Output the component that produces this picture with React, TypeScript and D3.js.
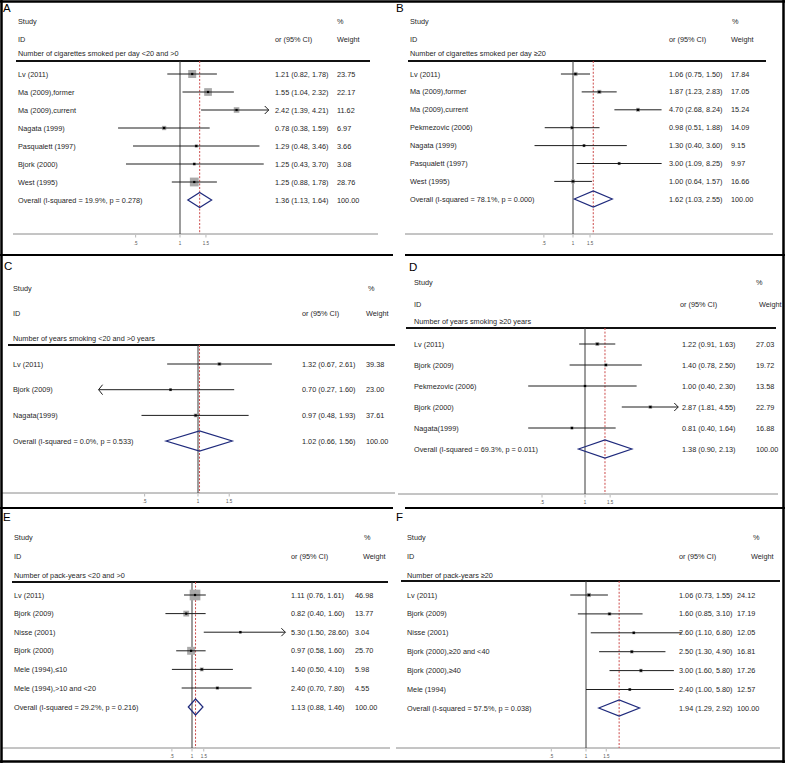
import React from 'react';
import * as d3 from 'd3';

const FONT = "'Liberation Sans', Arial, Helvetica, sans-serif";

// ---------- DATA ----------
const studiesA = ['Lv (2011)', 'Ma (2009),former', 'Ma (2009),current', 'Nagata (1999)', 'Pasqualett (1997)', 'Bjork (2000)', 'West (1995)'];
const orA = [1.21, 1.55, 2.42, 0.78, 1.29, 1.25, 1.25];
const lowA = [0.82, 1.04, 1.39, 0.38, 0.48, 0.43, 0.88];
const highA = [1.78, 2.32, 4.21, 1.59, 3.46, 3.70, 1.78];
const weightA = [23.75, 22.17, 11.62, 6.97, 3.66, 3.08, 28.76];
const overallA = [1.36, 1.13, 1.64];
const hetA = ['19.9%', '0.278'];

const studiesB = ['Lv (2011)', 'Ma (2009),former', 'Ma (2009),current', 'Pekmezovic (2006)', 'Nagata (1999)', 'Pasqualett (1997)', 'West (1995)'];
const orB = [1.06, 1.87, 4.70, 0.98, 1.30, 3.00, 1.00];
const lowB = [0.75, 1.23, 2.68, 0.51, 0.40, 1.09, 0.64];
const highB = [1.50, 2.83, 8.24, 1.88, 3.60, 8.25, 1.57];
const weightB = [17.84, 17.05, 15.24, 14.09, 9.15, 9.97, 16.66];
const overallB = [1.62, 1.03, 2.55];
const hetB = ['78.1%', '0.000'];

const studiesC = ['Lv (2011)', 'Bjork (2009)', 'Nagata(1999)'];
const orC = [1.32, 0.70, 0.97];
const lowC = [0.67, 0.27, 0.48];
const highC = [2.61, 1.60, 1.93];
const weightC = [39.38, 23.00, 37.61];
const overallC = [1.02, 0.66, 1.56];
const hetC = ['0.0%', '0.533'];

const studiesD = ['Lv (2011)', 'Bjork (2009)', 'Pekmezovic (2006)', 'Bjork (2000)', 'Nagata(1999)'];
const orD = [1.22, 1.40, 1.00, 2.87, 0.81];
const lowD = [0.91, 0.78, 0.40, 1.81, 0.40];
const highD = [1.63, 2.50, 2.30, 4.55, 1.64];
const weightD = [27.03, 19.72, 13.58, 22.79, 16.88];
const overallD = [1.38, 0.90, 2.13];
const hetD = ['69.3%', '0.011'];

const studiesE = ['Lv (2011)', 'Bjork (2009)', 'Nisse (2001)', 'Bjork (2000)', 'Mele (1994),≤10', 'Mele (1994),>10 and <20'];
const orE = [1.11, 0.82, 5.30, 0.97, 1.40, 2.40];
const lowE = [0.76, 0.40, 1.50, 0.58, 0.50, 0.70];
const highE = [1.61, 1.60, 28.60, 1.60, 4.10, 7.80];
const weightE = [46.98, 13.77, 3.04, 25.70, 5.98, 4.55];
const overallE = [1.13, 0.88, 1.46];
const hetE = ['29.2%', '0.216'];

const studiesF = ['Lv (2011)', 'Bjork (2009)', 'Nisse (2001)', 'Bjork (2000),≥20 and <40', 'Bjork (2000),≥40', 'Mele (1994)'];
const orF = [1.06, 1.60, 2.60, 2.50, 3.00, 2.40];
const lowF = [0.73, 0.85, 1.10, 1.30, 1.60, 1.00];
const highF = [1.55, 3.10, 6.80, 4.90, 5.80, 5.80];
const weightF = [24.12, 17.19, 12.05, 16.81, 17.26, 12.57];
const overallF = [1.94, 1.29, 2.92];
const hetF = ['57.5%', '0.038'];

const subtitles = [
  'Number of cigarettes smoked per day <20 and >0',
  'Number of cigarettes smoked per day ≥20',
  'Number of years smoking <20 and >0 years',
  'Number of years smoking ≥20 years',
  'Number of pack-years <20 and >0',
  'Number of pack-years ≥20',
];
const panelLetters = ['A', 'B', 'C', 'D', 'E', 'F'];
const tickValues = [0.5, 1, 1.5];
const tickLabels = ['.5', '1', '1.5'];

// ---------- LAYOUT ----------
type L = {
  lx: number; ly: number; sx: number; studyY: number; idY: number; pctX: number; ciX: number; wHX: number;
  valX: number; wX: number; subY: number; hdrY: number; hdrX0: number; hdrX1: number;
  rowY0: number; rowStep: number; ovY: number; axY: number; axX0: number; axX1: number; tickY: number;
  cx: number; ppl: number; min: number; max: number; k: number; dh: number;
};

const layouts: L[] = [
  { lx: 3, ly: 8, sx: 18, studyY: 21, idY: 39, pctX: 337, ciX: 275, wHX: 337, valX: 275, wX: 337, subY: 53, hdrY: 61, hdrX0: 16, hdrX1: 370,
    rowY0: 74, rowStep: 18, ovY: 200, axY: 234, axX0: 13, axX1: 378, tickY: 242, cx: 180, ppl: 64, min: 0.25, max: 4, k: 1.64, dh: 7.5 },
  { lx: 396, ly: 8, sx: 410, studyY: 21, idY: 39, pctX: 732, ciX: 669, wHX: 731, valX: 669, wX: 731, subY: 53, hdrY: 61, hdrX0: 408, hdrX1: 766,
    rowY0: 74, rowStep: 17.9, ovY: 199, axY: 234, axX0: 405, axX1: 773, tickY: 242, cx: 573, ppl: 42, min: 0.25, max: 10, k: 1.0, dh: 8 },
  { lx: 4, ly: 266, sx: 13, studyY: 288, idY: 313, pctX: 368, ciX: 302, wHX: 366, valX: 302, wX: 366, subY: 338, hdrY: 345, hdrX0: 8, hdrX1: 395,
    rowY0: 364, rowStep: 25.7, ovY: 441, axY: 493, axX0: 2, axX1: 395, tickY: 500, cx: 198, ppl: 77, min: 0.275, max: 6, k: 0.6, dh: 10 },
  { lx: 409, ly: 267, sx: 414, studyY: 282, idY: 304, pctX: 756, ciX: 680, wHX: 759, valX: 682, wX: 756, subY: 321, hdrY: 328, hdrX0: 406, hdrX1: 776,
    rowY0: 344, rowStep: 21, ovY: 449, axY: 494, axX0: 398, axX1: 778, tickY: 501, cx: 585, ppl: 62, min: 0.25, max: 4.5, k: 0.75, dh: 9 },
  { lx: 3, ly: 517, sx: 14, studyY: 537, idY: 556, pctX: 364, ciX: 291, wHX: 363, valX: 291, wX: 355, subY: 575, hdrY: 582, hdrX0: 12, hdrX1: 388,
    rowY0: 595, rowStep: 18.6, ovY: 707, axY: 748, axX0: 2, axX1: 390, tickY: 755, cx: 192, ppl: 29, min: 0.25, max: 25, k: 1.56, dh: 8 },
  { lx: 396, ly: 517, sx: 407, studyY: 537, idY: 556, pctX: 753, ciX: 679, wHX: 751, valX: 679, wX: 737, subY: 575, hdrY: 581, hdrX0: 401, hdrX1: 780,
    rowY0: 595, rowStep: 18.9, ovY: 708, axY: 748, axX0: 396, axX1: 780, tickY: 755, cx: 586, ppl: 50, min: 0.25, max: 8, k: 0.85, dh: 8 },
];

const panelData = [
  { s: studiesA, or: orA, lo: lowA, hi: highA, w: weightA, ov: overallA, het: hetA },
  { s: studiesB, or: orB, lo: lowB, hi: highB, w: weightB, ov: overallB, het: hetB },
  { s: studiesC, or: orC, lo: lowC, hi: highC, w: weightC, ov: overallC, het: hetC },
  { s: studiesD, or: orD, lo: lowD, hi: highD, w: weightD, ov: overallD, het: hetD },
  { s: studiesE, or: orE, lo: lowE, hi: highE, w: weightE, ov: overallE, het: hetE },
  { s: studiesF, or: orF, lo: lowF, hi: highF, w: weightF, ov: overallF, het: hetF },
];

const FS = 7.3;
const TXT = '#1f1f1f';

const ciText = (o: number, l: number, h: number) => `${o.toFixed(2)} (${l.toFixed(2)}, ${h.toFixed(2)})`;

function Panel({ L, d, letter, sub }: { L: L; d: any; letter: string; sub: string }) {
  const x = d3.scaleLog()
    .domain([L.min, L.max])
    .range([L.cx + L.ppl * Math.log(L.min), L.cx + L.ppl * Math.log(L.max)]);
  const rowY = (i: number) => L.rowY0 + i * L.rowStep;
  const t = (props: any, content: string) => (
    <text fontFamily={FONT} fontSize={FS} fill={TXT} dominantBaseline="central" {...props}>{content}</text>
  );
  const [oOr, oLo, oHi] = d.ov;
  return (
    <g>
      <text x={L.lx} y={L.ly} fontFamily={FONT} fontSize={11.5} fill="#000" dominantBaseline="central">{letter}</text>
      {t({ x: L.sx, y: L.studyY }, 'Study')}
      {t({ x: L.pctX, y: L.studyY }, '%')}
      {t({ x: L.sx, y: L.idY }, 'ID')}
      {t({ x: L.ciX, y: L.idY }, 'or (95% CI)')}
      {t({ x: L.wHX, y: L.idY }, 'Weight')}
      {t({ x: L.sx, y: L.subY }, sub)}
      <line x1={L.hdrX0} x2={L.hdrX1} y1={L.hdrY} y2={L.hdrY} stroke="#111" strokeWidth={1.8} />
      {/* axis */}
      <line x1={L.axX0} x2={L.axX1} y1={L.axY} y2={L.axY} stroke="#8a8a8a" strokeWidth={1} />
      {tickValues.map((v, i) => (
        <g key={i}>
          <line x1={x(v)} x2={x(v)} y1={L.axY + 1} y2={L.axY + 3.5} stroke="#888" strokeWidth={0.6} />
          <text x={x(v)} y={L.tickY + 1} fontFamily={FONT} fontSize={4.5} fill="#555" textAnchor="middle" dominantBaseline="central">{tickLabels[i]}</text>
        </g>
      ))}
      {/* reference lines */}
      <line x1={x(1)} x2={x(1)} y1={L.hdrY} y2={L.axY} stroke="#3a3a3a" strokeWidth={1} />
      <line x1={x(oOr)} x2={x(oOr)} y1={L.hdrY} y2={L.axY} stroke="#cc4b4b" strokeWidth={1} strokeDasharray="2 1.6" />
      {/* studies */}
      {d.s.map((name: string, i: number) => {
        const y = rowY(i);
        const lo = Math.max(d.lo[i], L.min);
        const hi = Math.min(d.hi[i], L.max);
        const side = L.k * Math.sqrt(d.w[i]);
        const cx = x(d.or[i]);
        return (
          <g key={i}>
            {t({ x: L.sx, y }, name)}
            {t({ x: L.valX, y }, ciText(d.or[i], d.lo[i], d.hi[i]))}
            {t({ x: L.wX, y }, d.w[i].toFixed(2))}
            <rect x={cx - side / 2} y={y - side / 2} width={side} height={side} fill="#a9a9a9" />
            <line x1={x(lo)} x2={x(hi)} y1={y} y2={y} stroke="#1e1e1e" strokeWidth={1} />
            {d.hi[i] > L.max && (
              <path d={`M${x(hi) - 4},${y - 4}L${x(hi)},${y}L${x(hi) - 4},${y + 4}`} fill="none" stroke="#1e1e1e" strokeWidth={1} />
            )}
            {d.lo[i] < L.min && (
              <path d={`M${x(lo) + 4},${y - 5}L${x(lo)},${y}L${x(lo) + 4},${y + 5}`} fill="none" stroke="#1e1e1e" strokeWidth={1} />
            )}
            <rect x={cx - 1.1} y={y - 1.1} width={2.2} height={2.2} fill="#000" />
          </g>
        );
      })}
      {/* overall */}
      {t({ x: L.sx, y: L.ovY }, `Overall  (I-squared = ${d.het[0]}, p = ${d.het[1]})`)}
      {t({ x: L.valX, y: L.ovY }, ciText(oOr, oLo, oHi))}
      {t({ x: L.wX, y: L.ovY }, '100.00')}
      <polygon
        points={`${x(oLo)},${L.ovY} ${x(oOr)},${L.ovY - L.dh} ${x(oHi)},${L.ovY} ${x(oOr)},${L.ovY + L.dh}`}
        fill="none" stroke="#1f2a7c" strokeWidth={1.2} />
    </g>
  );
}

export default function App() {
  return (
    <svg width={787} height={764} style={{ position: 'absolute', left: 0, top: 0, background: '#fff' }}>
      <rect x={0} y={0} width={787} height={764} fill="#fff" />
      {layouts.map((L, i) => (
        <Panel key={i} L={L} d={panelData[i]} letter={panelLetters[i]} sub={subtitles[i]} />
      ))}
      {/* frame */}
      <line x1={1.5} x2={1.5} y1={0} y2={763} stroke="#000" strokeWidth={2.5} />
      <line x1={0} x2={785} y1={1.5} y2={1.5} stroke="#000" strokeWidth={2.5} />
      <line x1={783.5} x2={783.5} y1={0} y2={763} stroke="#000" strokeWidth={2.5} />
      <line x1={0} x2={785} y1={761.5} y2={761.5} stroke="#000" strokeWidth={2.5} />
      <line x1={0} x2={393} y1={255} y2={255} stroke="#000" strokeWidth={2.2} />
      <line x1={405} x2={785} y1={255} y2={255} stroke="#000" strokeWidth={2.2} />
      <line x1={0} x2={393} y1={508} y2={508} stroke="#000" strokeWidth={2.2} />
      <line x1={405} x2={785} y1={508} y2={508} stroke="#000" strokeWidth={2.2} />
    </svg>
  );
}
